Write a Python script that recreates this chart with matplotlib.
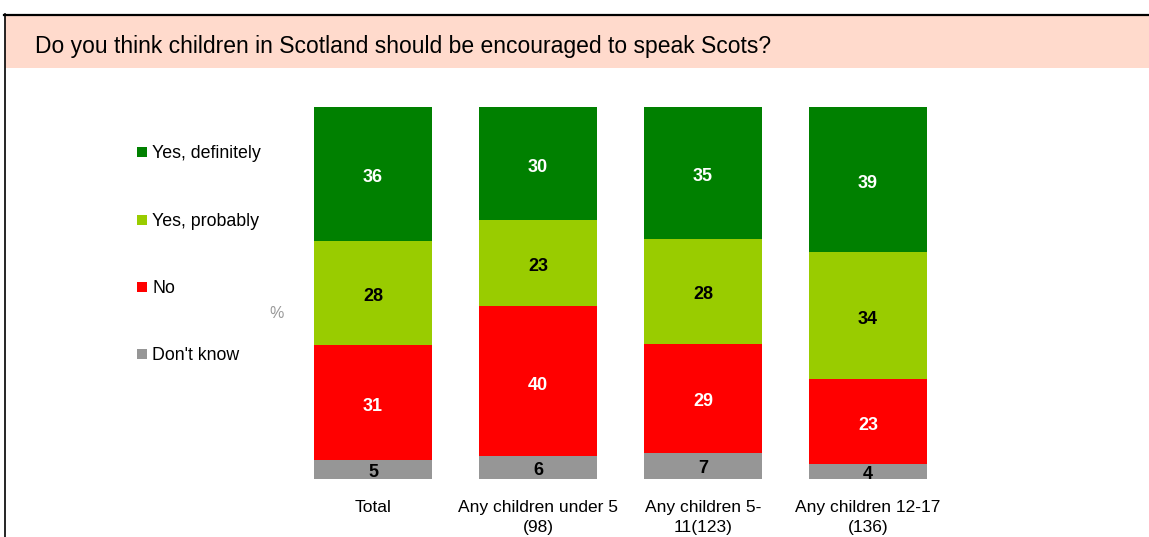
import numpy as np
import matplotlib
matplotlib.use("Agg")
from matplotlib import pyplot
from matplotlib.patches import Rectangle
from matplotlib.lines import Line2D

"""Input data"""

title = "Do you think children in Scotland should be encouraged to speak Scots?"
categories = ["Total", "Any children under 5\n(98)", "Any children 5-\n11(123)", "Any children 12-17\n(136)"]
series_names = ["Don't know", "No", "Yes, probably", "Yes, definitely"]
dont_know = [5, 6, 7, 4]
no = [31, 40, 29, 23]
yes_probably = [28, 23, 28, 34]
yes_definitely = [36, 30, 35, 39]

colours = ["#969696", "#FF0000", "#99CC00", "#008000"]
label_colours = ["black", "white", "black", "white"]

W, H = 1149, 537
pyplot.rcParams["font.family"] = ["Liberation Sans", "DejaVu Sans"]
fig = pyplot.figure(figsize=(W / 100, H / 100), dpi=100)


def px(x, y):
    """pixel (from top-left) -> figure fraction"""
    return x / W, 1 - y / H


# frame and title band
x0, y0 = px(5, 68)
x1, y1 = px(W, 15)
fig.patches.append(Rectangle((x0, y0), x1 - x0, y1 - y0, transform=fig.transFigure,
                             facecolor="#FFDACC", edgecolor="none", zorder=0))
fig.lines.append(Line2D([px(4, 0)[0], 1], [px(0, 14.5)[1]] * 2, transform=fig.transFigure,
                        color="black", lw=1.6))
fig.lines.append(Line2D([px(4.5, 0)[0]] * 2, [px(0, 14)[1], 0], transform=fig.transFigure,
                        color="black", lw=1.2))
fig.text(*px(35, 46), title, fontsize=16.5, va="center", ha="left")

# bars, 100% stacked
bar_w = 118 / 165
ax = fig.add_axes([314 / W, (H - 479) / H, (927 - 314) / W, 372 / H])
data = np.array([dont_know, no, yes_probably, yes_definitely], dtype=float)
shares = data / data.sum(axis=0) * 100
xs = np.arange(len(categories))
bottom = np.zeros(len(categories))
for i, name in enumerate(series_names):
    ax.bar(xs, shares[i], bar_w, bottom=bottom, color=colours[i], label=name)
    for j, x in enumerate(xs):
        ax.text(x, bottom[j] + shares[i][j] / 2 - (0.8 if i == 0 else 1.0), f"{int(data[i][j])}",
                ha="center", va="center", fontsize=13, fontweight="bold", color=label_colours[i])
    bottom += shares[i]

ax.set_xlim(-bar_w / 2, len(categories) - 1 + bar_w / 2)
ax.set_ylim(0, 100)
ax.set_yticks([])
ax.set_xticks(xs, categories, fontsize=12.5, linespacing=1.4)
ax.tick_params(axis="x", length=0, pad=15)
for s in ax.spines.values():
    s.set_visible(False)

# legend drawn by hand to keep the wide spacing
legend_y = [152, 220, 287, 354]
for k, name in enumerate(series_names[::-1]):
    c = colours[::-1][k]
    lx, ly = px(137, legend_y[k] + 5)
    fig.patches.append(Rectangle((lx, ly), 10 / W, 10 / H, transform=fig.transFigure,
                                 facecolor=c, edgecolor="none"))
    fig.text(*px(152, legend_y[k] + 1.5), name, fontsize=12.8, va="center", ha="left")

fig.text(*px(277, 313), "%", fontsize=11.5, color="#999999", va="center", ha="center")

fig.savefig("out.png", dpi=100)
